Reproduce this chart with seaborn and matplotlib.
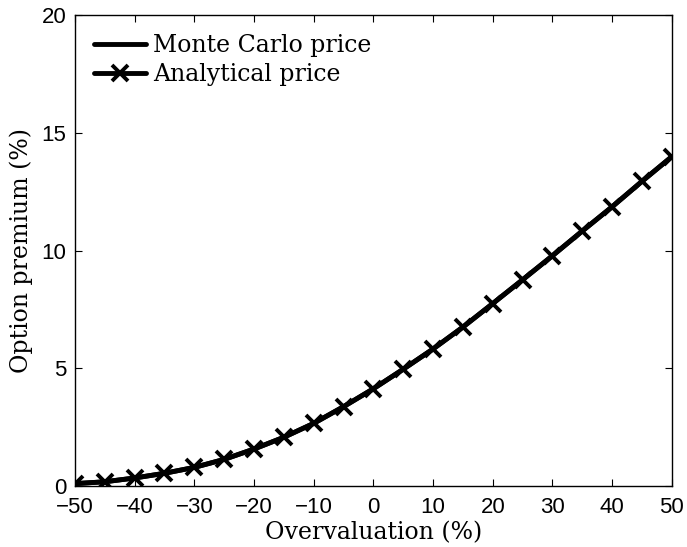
import matplotlib
matplotlib.use("Agg")
import matplotlib.pyplot as plt
import seaborn as sns
import pandas as pd

overvaluation = [-50, -45, -40, -35, -30, -25, -20, -15, -10, -5, 0, 5, 10, 15, 20, 25, 30, 35, 40, 45, 50]
monte_carlo = [0.10, 0.18, 0.34, 0.54, 0.79, 1.13, 1.57, 2.07, 2.66, 3.37, 4.13, 4.96, 5.82, 6.75, 7.75, 8.76, 9.78, 10.83, 11.86, 12.94, 13.99]
analytical = [0.10, 0.18, 0.34, 0.54, 0.79, 1.13, 1.57, 2.07, 2.66, 3.37, 4.13, 4.96, 5.82, 6.75, 7.75, 8.76, 9.78, 10.83, 11.86, 12.94, 13.99]
xticks = [-50, -40, -30, -20, -10, 0, 10, 20, 30, 40, 50]
yticks = [0, 5, 10, 15, 20]

sns.set_style("white")
plt.rcParams["text.color"] = "black"
plt.rcParams["axes.labelcolor"] = "black"
df = pd.DataFrame({"x": overvaluation, "mc": monte_carlo, "an": analytical})

fig = plt.figure(figsize=(6.87, 5.47), dpi=100)
ax = fig.add_axes([0.109, 0.1115, 0.869, 0.861])

sns.lineplot(data=df, x="x", y="mc", ax=ax, color="black", linewidth=3.5, label="Monte Carlo price")
sns.lineplot(data=df, x="x", y="an", ax=ax, color="black", linewidth=3.5, marker="x",
             markersize=11, markeredgewidth=2.8, markeredgecolor="black", label="Analytical price")

ax.set_xlim(-50, 50)
ax.set_ylim(0, 20)
ax.set_xticks(xticks)
ax.set_yticks(yticks)
ax.set_xticklabels([str(t).replace("-", "\u2212") for t in xticks], fontsize=16, family="Liberation Sans")
ax.set_yticklabels([str(t) for t in yticks], fontsize=16, family="Liberation Sans")
ax.tick_params(direction="in", length=5, width=0.8, top=True, right=True, bottom=True, left=True, colors="black")
ax.tick_params(axis="x", pad=8)
ax.tick_params(axis="y", pad=6)
for s in ax.spines.values():
    s.set_visible(True)
    s.set_color("black")
    s.set_linewidth(1.0)

ax.set_xlabel("Overvaluation (%)", fontsize=17, family="DejaVu Serif", color="black", va="baseline")
ax.xaxis.set_label_coords(0.5, -0.1125)
ax.set_ylabel("Option premium (%)", fontsize=17, family="DejaVu Serif", labelpad=6, color="black")

leg = ax.legend(loc="upper left", frameon=False, prop={"family": "DejaVu Serif", "size": 17},
                handlelength=2.2, handletextpad=0.3, borderaxespad=0.5, borderpad=0.3,
                labelspacing=0.25)
for t in leg.get_texts():
    t.set_color("black")

fig.savefig("out.png", dpi=100)
